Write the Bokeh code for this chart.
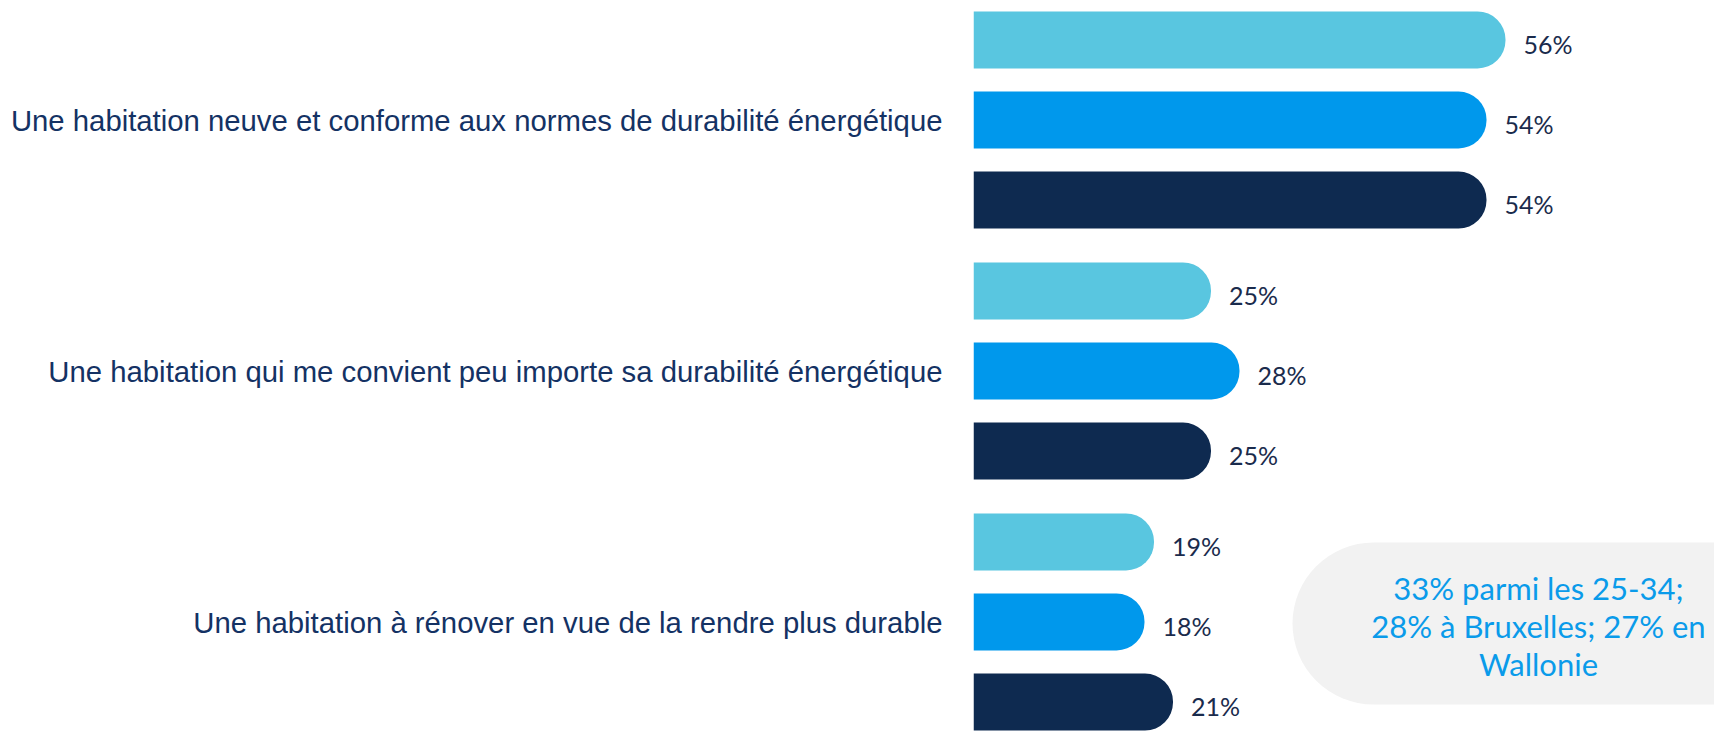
from bokeh.plotting import figure
from bokeh.models import ColumnDataSource, Range1d, FixedTicker, BoxAnnotation, Label
from bokeh.core.properties import value
from bokeh.embed import file_html
from bokeh.resources import INLINE

# ---- data ----
categories = [
    "Une habitation neuve et conforme aux normes de durabilité énergétique",
    "Une habitation qui me convient peu importe sa durabilité énergétique",
    "Une habitation à rénover en vue de la rendre plus durable",
]
series = ["Série A", "Série B", "Série C"]
values_a = [56, 25, 19]
values_b = [54, 28, 18]
values_c = [54, 25, 21]
note_text = "33% parmi les 25-34;\n28% à Bruxelles; 27% en\nWallonie"

# ---- style ----
colors = ["#59C6E0", "#0098EC", "#0E2A50"]
label_color = "#143264"
value_color = "#1A2B4C"
offsets = [-0.319, 0.0, 0.319]
bar_h = 0.227
radius = 28

W, H = 1714, 731
left_border = 973
px_per_unit = 9.5
x_end = (W - left_border) / px_per_unit
unit_px = 251.0
y_top = -119.5 / unit_px
y_bottom = y_top + H / unit_px

p = figure(width=W, height=H, output_backend="svg", toolbar_location=None,
           x_range=Range1d(0, x_end), y_range=Range1d(y_bottom, y_top),
           min_border_left=left_border, min_border_right=0,
           min_border_top=0, min_border_bottom=0)
p.outline_line_color = None
p.xgrid.visible = False
p.ygrid.visible = False
p.xaxis.visible = False
p.background_fill_color = "white"
p.border_fill_color = "white"

all_vals = [values_a, values_b, values_c]
for si, vals in enumerate(all_vals):
    ys = [gi + offsets[si] for gi in range(len(categories))]
    src = ColumnDataSource(dict(y=ys, right=vals,
                                lab=[f"{v}%" for v in vals],
                                cat=categories, ser=[series[si]] * len(vals)))
    p.hbar(y="y", left=0, right="right", height=bar_h, source=src,
           fill_color=colors[si], line_color=None,
           border_radius=(0, radius, radius, 0))
    p.text(x="right", y="y", text="lab", source=src, x_offset=18, y_offset=4,
           text_align="left", text_baseline="middle",
           text_font=value("Lato"), text_font_size="25px", text_color=value_color)

ax = p.yaxis[0]
ax.ticker = FixedTicker(ticks=list(range(len(categories))))
ax.major_label_overrides = {i: c for i, c in enumerate(categories)}
ax.axis_line_color = None
ax.major_tick_line_color = None
ax.minor_tick_line_color = None
ax.major_tick_in = 0
ax.major_tick_out = 0
ax.major_label_standoff = 31
ax.major_label_text_font = "Liberation Sans"
ax.major_label_text_font_size = "29.3px"
ax.major_label_text_color = label_color

# ---- note box ----
box = BoxAnnotation(left=(1292 - left_border) / px_per_unit, right=x_end + 5,
                    top=y_top + 542 / unit_px, bottom=y_top + 704 / unit_px,
                    fill_color="#F2F2F2", fill_alpha=1.0, line_color=None,
                    border_radius=dict(top_left=81, top_right=0, bottom_right=0, bottom_left=81))
p.add_layout(box)
note = Label(x=(1538 - left_border) / px_per_unit, y=y_top + 625 / unit_px, text=note_text,
             text_align="center", text_baseline="middle",
             text_font="Lato", text_font_size="31px", text_color="#0A9BEA",
             text_line_height=1.0)
p.add_layout(note)

open("out.html", "w").write(file_html(p, INLINE))
